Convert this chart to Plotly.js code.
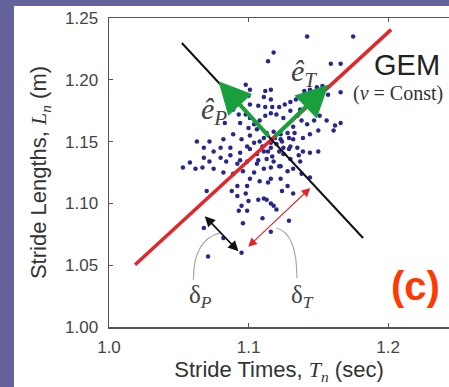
<!DOCTYPE html>
<html>
<head>
<meta charset="utf-8">
<script src="https://cdn.plot.ly/plotly-3.0.1.min.js"></script>
<style>
  html, body { margin: 0; padding: 0; width: 449px; height: 387px; overflow: hidden; background: #63639a; }
  #chart { position: absolute; left: 14px; top: 6px; width: 435px; height: 381px; background: #ffffff; }
</style>
</head>
<body>
<div id="chart"></div>
<script>
// ---- data ----
const strideTimes = [
  1.142,1.175,1.118,1.114,1.159,1.166,1.098,1.101,1.112,1.116,
  1.100,1.111,1.116,1.101,1.107,1.112,1.117,1.122,1.126,1.130,
  1.134,1.140,1.144,1.149,1.153,1.142,1.147,1.150,1.157,1.166,
  1.083,1.094,1.098,1.101,1.104,1.108,1.112,1.116,1.120,1.125,
  1.130,1.135,1.138,1.142,1.147,1.151,1.156,1.162,1.166,1.161,
  1.150,1.144,1.139,1.133,1.129,1.123,1.116,1.108,1.101,1.095,
  1.089,1.082,1.072,1.063,1.068,1.075,1.080,1.087,1.094,1.101,
  1.106,1.111,1.116,1.120,1.125,1.130,1.135,1.139,1.144,1.150,
  1.137,1.130,1.125,1.118,1.113,1.106,1.099,1.092,1.084,1.080,
  1.072,1.068,1.058,1.053,1.062,1.067,1.075,1.082,1.089,1.096,
  1.104,1.111,1.116,1.123,1.128,1.132,1.138,1.144,1.101,1.108,
  1.116,1.123,1.099,1.092,
  1.070,1.088,1.092,1.098,1.100,1.107,1.111,1.113,1.116,1.118,
  1.120,1.095,1.093,1.099,1.110,1.129,1.096,1.068,1.082,1.116,
  1.095,1.071,
  1.124,1.128,1.132,1.114,
  1.113,1.118,1.123,1.111,1.119,1.124,1.129,1.114,1.122,1.117,
  1.110,1.104,1.099,1.128,1.132,1.136,1.107,1.122,1.094,1.087,
  1.089,1.093,1.106,1.100,1.132,1.137
];
const strideLengths = [
  1.235,1.235,1.222,1.215,1.213,1.213,1.196,1.192,1.191,1.192,
  1.187,1.186,1.184,1.180,1.179,1.178,1.178,1.178,1.180,1.182,
  1.184,1.191,1.192,1.194,1.195,1.186,1.184,1.190,1.188,1.190,
  1.165,1.165,1.172,1.169,1.164,1.167,1.171,1.173,1.172,1.169,
  1.175,1.171,1.167,1.164,1.167,1.171,1.167,1.163,1.165,1.159,
  1.159,1.156,1.153,1.157,1.153,1.152,1.149,1.150,1.155,1.152,
  1.156,1.152,1.150,1.150,1.145,1.142,1.145,1.145,1.141,1.144,
  1.140,1.142,1.145,1.148,1.145,1.146,1.145,1.142,1.141,1.142,
  1.134,1.136,1.140,1.134,1.136,1.132,1.134,1.132,1.134,1.137,
  1.134,1.137,1.133,1.129,1.128,1.129,1.128,1.125,1.124,1.126,
  1.125,1.128,1.129,1.130,1.126,1.128,1.124,1.121,1.120,1.118,
  1.120,1.120,1.114,1.114,
  1.110,1.110,1.106,1.108,1.102,1.103,1.104,1.103,1.100,1.098,
  1.095,1.098,1.094,1.094,1.088,1.086,1.084,1.080,1.072,1.077,
  1.060,1.057,
  1.110,1.114,1.108,1.117,
  1.157,1.158,1.156,1.153,1.153,1.150,1.144,1.142,1.142,1.138,
  1.146,1.149,1.146,1.157,1.152,1.139,1.135,1.130,1.135,1.139,
  1.176,1.172,1.160,1.161,1.162,1.176
];

// constant-speed line (GEM) and its perpendicular
const gemLineT = [1.0187, 1.2022];
const gemLineL = [1.0504, 1.2406];
const perpLineT = [1.0522, 1.1821];
const perpLineL = [1.2298, 1.0720];

// unit vectors: origin and tips
const vecOrigin = [1.1167, 1.1516];
const ePTip = [1.0785, 1.1988];
const eTTip = [1.1574, 1.1961];

// deviation arrows
const deltaPStart = [1.0665, 1.0922], deltaPEnd = [1.0928, 1.0612];
const deltaTStart = [1.0976, 1.0626], deltaTEnd = [1.1443, 1.1125];

// label leader curves (start, control, end)
const curveP = [[1.0605, 1.0383], [1.0605, 1.0707], [1.0797, 1.0761]];
const curveT = [[1.1347, 1.0396], [1.1347, 1.0761], [1.1199, 1.0801]];

const xTicks = [1.0, 1.1, 1.2];
const yTicks = [1.00, 1.05, 1.10, 1.15, 1.20, 1.25];

// ---- drawing ----
const SANS = 'Liberation Sans, Arial, Helvetica, sans-serif';
const SERIF = 'Liberation Serif, Times New Roman, serif';

const traces = [
  { x: strideTimes, y: strideLengths, type: 'scatter', mode: 'markers',
    marker: { size: 4.5, color: '#28288a' }, hoverinfo: 'skip', showlegend: false },
  { x: gemLineT, y: gemLineL, type: 'scatter', mode: 'lines',
    line: { color: '#e3262b', width: 3.5 }, showlegend: false },
  { x: perpLineT, y: perpLineL, type: 'scatter', mode: 'lines',
    line: { color: '#111111', width: 2 }, showlegend: false }
];

function arrow(tip, tail, color, width, size, both) {
  return { x: tip[0], y: tip[1], ax: tail[0], ay: tail[1], xref: 'x', yref: 'y',
    axref: 'x', ayref: 'y', text: ' ', showarrow: true, arrowcolor: color,
    arrowwidth: width, arrowhead: 2, arrowsize: size,
    arrowside: both ? 'end+start' : 'end', startarrowhead: 2, startarrowsize: size,
    standoff: 0, startstandoff: 0 };
}
function txt(x, y, text, size, family, color, extra) {
  return Object.assign({ x: x, y: y, xref: 'x', yref: 'y', text: text, showarrow: false,
    font: { size: size, family: family, color: color } }, extra || {});
}
function quad(c) {
  return 'M ' + c[0][0] + ',' + c[0][1] + ' Q ' + c[1][0] + ',' + c[1][1] + ' ' + c[2][0] + ',' + c[2][1];
}

const annotations = [
  arrow(ePTip, vecOrigin, '#1a9f3d', 4, 1.6, false),
  arrow(eTTip, vecOrigin, '#1a9f3d', 4, 1.6, false),
  arrow(deltaPEnd, deltaPStart, '#111111', 1.6, 1.3, true),
  arrow(deltaTEnd, deltaTStart, '#e3262b', 1.1, 1.6, true),
  txt(1.2136, 1.212, 'GEM', 29, SANS, '#222222'),
  txt(1.1735, 1.1893, '(<i>ν</i> = Const)', 20, SERIF, '#333333', { xanchor: 'left' }),
  txt(1.1395, 1.2055, '<i>ê</i><sub><i>T</i></sub>', 30, SERIF, '#444444'),
  txt(1.0755, 1.1745, '<i>ê</i><sub><i>P</i></sub>', 30, SERIF, '#444444'),
  txt(1.0655, 1.0245, 'δ<sub><i>P</i></sub>', 25, SERIF, '#444444'),
  txt(1.1385, 1.0245, 'δ<sub><i>T</i></sub>', 25, SERIF, '#444444'),
  txt(1.2196, 1.0330, '<b>(c)</b>', 40, SANS, '#ff3a00')
];

const shapes = [
  { type: 'path', xref: 'x', yref: 'y', path: quad(curveP), line: { color: '#a8a8a8', width: 1.2 } },
  { type: 'path', xref: 'x', yref: 'y', path: quad(curveT), line: { color: '#a8a8a8', width: 1.2 } }
];

const layout = {
  width: 435, height: 381,
  margin: { l: 95, r: 0, t: 12, b: 60, pad: 0 },
  paper_bgcolor: '#ffffff', plot_bgcolor: '#ffffff',
  showlegend: false,
  font: { family: SANS, color: '#444444' },
  xaxis: {
    range: [1.0, 1.2437], tickvals: xTicks, tickformat: '.1f',
    showgrid: false, zeroline: false, showline: true, linecolor: '#555555', linewidth: 1.5,
    mirror: 'ticks', ticks: 'inside', ticklen: 4, tickcolor: '#555555', tickwidth: 1,
    tickfont: { size: 17, family: SANS, color: '#444444' }, ticklabelstandoff: 4,
    title: { text: 'Stride Times, <span style="font-family:Liberation Serif"><i>T<sub>n</sub></i></span> (sec)',
      font: { size: 22, family: SANS, color: '#333333' }, standoff: 3 }
  },
  yaxis: {
    range: [1.0, 1.25], tickvals: yTicks, tickformat: '.2f',
    showgrid: false, zeroline: false, showline: true, linecolor: '#555555', linewidth: 1.5,
    mirror: false, ticks: 'inside', ticklen: 4, tickcolor: '#555555', tickwidth: 1,
    tickfont: { size: 17, family: SANS, color: '#444444' }, ticklabelstandoff: 6,
    title: { text: 'Stride Lengths, <span style="font-family:Liberation Serif"><i>L<sub>n</sub></i></span> (m)',
      font: { size: 22, family: SANS, color: '#333333' }, standoff: 12 }
  },
  annotations: annotations,
  shapes: shapes
};

Plotly.newPlot('chart', traces, layout, { staticPlot: true, displayModeBar: false });
</script>
</body>
</html>
